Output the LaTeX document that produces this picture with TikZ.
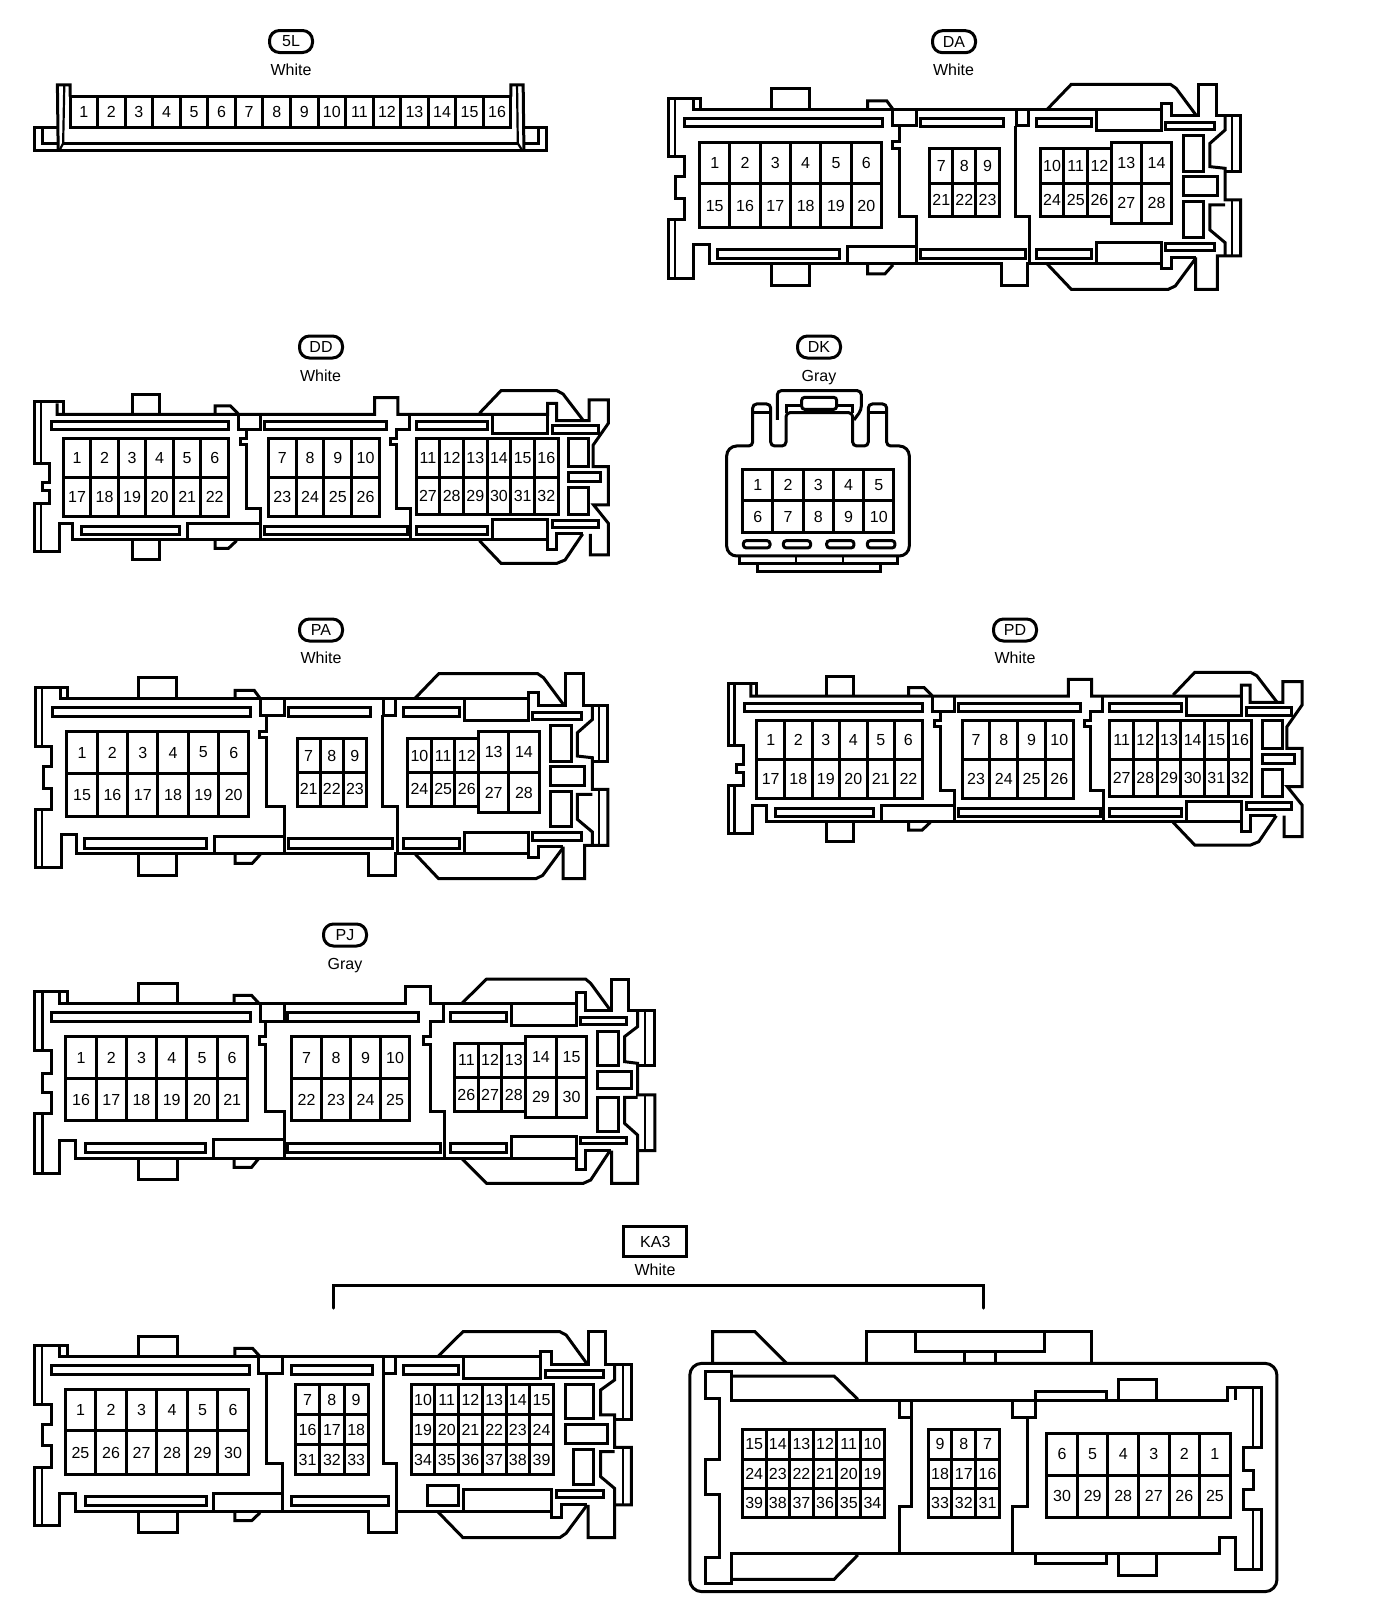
\documentclass[tikz,border=0pt]{standalone}
\usepackage{fontspec}
\setmainfont{Liberation Sans}

\tikzstyle{shell}= [black,line width=3pt,line join=miter]
\tikzstyle{thinwall}= [black,line width=2.2pt]
\tikzstyle{cavity}= [rectangle,draw,black,line width=3pt,inner sep=0pt,outer sep=0pt,font=\fontsize{16}{16}\selectfont]
\tikzstyle{idtag}= [rectangle,draw,black,line width=3pt,rounded corners=10pt,minimum width=43pt,minimum height=22pt,inner sep=0pt,font=\fontsize{16}{16}\selectfont]
\tikzstyle{idbox}= [rectangle,draw,black,line width=3pt,minimum width=63pt,minimum height=30pt,inner sep=0pt,font=\fontsize{16}{16}\selectfont]
\tikzstyle{colour}= [inner sep=0pt,font=\fontsize{16}{16}\selectfont]

% one row of cavities: id, left, top, cell width, cell height, labels
\newcommand{\pins}[6]{%
  \foreach \lab [count=\n] in {#6} {
    \node (#1-\lab) at ({#2+(\n-.5)*#4},{#3+#5/2}) [cavity,minimum width=#4*\zx*1pt,minimum height=#5*\zy*1pt] {\lab};
  }}
\newcommand{\slot}[4]{\draw[shell] (#1,#2) rectangle (#3,#4);}

% housing with 28 cavities
\newcommand{\housingA}[3]{%
\begin{scope}[shift={(#2,#3)},x=.408pt,y=-.3333pt]
  \def\zx{.408}\def\zy{.3333}
  % left end and long walls
  \draw[shell] (148,268) -- (148,235) -- (70,235) -- (70,410) -- (108,410) -- (108,470) -- (88,470) -- (88,537) -- (108,537) -- (108,600) -- (70,600) -- (70,775) -- (132,775) -- (132,675) -- (170,675) -- (170,732) -- (885,732) -- (885,797) -- (950,797) -- (950,732) -- (1278,732) -- (1278,745) -- (1302,745) -- (1302,712) -- (1362,712);
  \draw[shell] (130,240) -- (130,268) -- (1278,268) -- (1278,250) -- (1302,250) -- (1302,288) -- (1368,288) -- (1368,193) -- (1413,193) -- (1413,288) -- (1472,288) -- (1472,455) -- (1434,455);
  \draw[thinwall] (85,235) -- (85,410) (85,600) -- (85,775) (1450,288) -- (1450,455) (1450,540) -- (1450,708);
  % tabs
  \draw[shell] (322,268) -- (322,205) -- (415,205) -- (415,268);
  \draw[shell] (558,268) -- (558,243) -- (605,243) -- (620,268);
  \draw[shell] (322,732) -- (322,797) -- (415,797) -- (415,732);
  \draw[shell] (558,732) -- (558,762) -- (600,762) -- (620,735);
  % inner walls
  \draw[shell] (620,268) -- (620,318) -- (678,318) -- (678,268);
  \draw[shell] (635,318) -- (635,365) -- (618,365) -- (618,385) -- (635,385) -- (635,590) -- (678,590) -- (678,732);
  \draw[shell] (922,268) -- (922,318) -- (952,318) -- (952,268);
  \draw[shell] (920,318) -- (920,590) -- (955,590) -- (955,732);
  \draw[shell] (508,728) -- (508,680) -- (678,680);
  \slot{110}{295}{595}{320} \slot{688}{295}{890}{320} \slot{972}{295}{1107}{320}
  \slot{190}{688}{488}{716} \slot{688}{688}{945}{716} \slot{972}{688}{1107}{716}
  \draw[shell] (1120,268) -- (1120,333) -- (1278,333) -- (1278,268);
  \draw[shell] (1120,732) -- (1120,668) -- (1278,668) -- (1278,732);
  % right end
  \draw[shell] (998,268) -- (1057,193) -- (1300,193) -- (1314,205) -- (1362,284);
  \draw[shell] (998,732) -- (1057,808) -- (1295,808) -- (1312,798) -- (1362,715);
  \draw[shell] (1434,288) -- (1434,330) -- (1397,370) -- (1397,440) -- (1434,445) -- (1434,540) -- (1472,540) -- (1472,708) -- (1415,708) -- (1415,808) -- (1362,808) -- (1362,712);
  \draw[shell] (1434,555) -- (1397,555) -- (1397,630) -- (1434,668) -- (1434,708);
  \slot{1287}{308}{1407}{330} \slot{1287}{670}{1407}{692}
  \slot{1332}{348}{1382}{455} \slot{1332}{470}{1415}{528} \slot{1332}{545}{1382}{652}
  % cavities
  \pins{#1}{146}{367}{74.3}{125}{1,2,3,4,5,6}
  \pins{#1}{146}{492}{74.3}{130}{15,16,17,18,19,20}
  \pins{#1}{710}{387}{56.7}{103}{7,8,9}
  \pins{#1}{710}{490}{56.7}{100}{21,22,23}
  \pins{#1}{981}{387}{58}{103}{10,11,12}
  \pins{#1}{981}{490}{58}{100}{24,25,26}
  \pins{#1}{1155}{367}{74}{123}{13,14}
  \pins{#1}{1155}{490}{74}{120}{27,28}
\end{scope}}

% housing with 32 cavities
\newcommand{\housingD}[3]{%
\begin{scope}[shift={(#2,#3)},x=.408pt,y=-.3333pt]
  \def\zx{.408}\def\zy{.3333}
  \draw[shell] (155,283) -- (155,245) -- (85,245) -- (85,430) -- (122,430) -- (122,487) -- (105,487) -- (105,512) -- (122,512) -- (122,550) -- (85,550) -- (85,695) -- (145,695) -- (145,610) -- (178,610) -- (178,660) -- (1342,660) -- (1342,690) -- (1364,690) -- (1364,642) -- (1428,642);
  \draw[shell] (140,250) -- (140,283) -- (918,283) -- (918,233) -- (975,233) -- (975,283) -- (1342,283) -- (1342,250) -- (1364,250) -- (1364,302) -- (1444,302) -- (1444,240) -- (1491,240) -- (1491,310) -- (1454,375) -- (1454,440) -- (1491,440) -- (1491,555) -- (1455,555) -- (1491,610) -- (1491,705) -- (1447,705) -- (1447,642);
  \draw[thinwall] (100,245) -- (100,430) (100,550) -- (100,695);
  \draw[shell] (325,283) -- (325,225) -- (392,225) -- (392,283);
  \draw[shell] (527,283) -- (527,258) -- (565,258) -- (585,283);
  \draw[shell] (325,660) -- (325,718) -- (392,718) -- (392,660);
  \draw[shell] (527,660) -- (527,685) -- (560,685) -- (580,662);
  \draw[shell] (585,283) -- (585,328) -- (638,328) -- (638,283);
  \draw[shell] (605,328) -- (605,355) -- (590,355) -- (590,375) -- (605,375) -- (605,565) -- (638,565) -- (638,660);
  \draw[shell] (1003,283) -- (1003,328) -- (972,328) -- (972,355) -- (958,355) -- (958,375) -- (972,375) -- (972,565) -- (1005,565) -- (1005,660);
  \draw[shell] (460,655) -- (460,610) -- (638,610);
  \slot{125}{305}{560}{330} \slot{648}{305}{948}{330} \slot{1020}{305}{1195}{330}
  \slot{200}{620}{440}{645} \slot{648}{620}{998}{645} \slot{1020}{620}{1195}{645}
  \draw[shell] (1208,283) -- (1208,340) -- (1342,340) -- (1342,283);
  \draw[shell] (1208,660) -- (1208,600) -- (1342,600) -- (1342,660);
  \draw[shell] (1175,280) -- (1228,212) -- (1365,212) -- (1380,222) -- (1430,302);
  \draw[shell] (1175,662) -- (1228,730) -- (1365,730) -- (1385,720) -- (1428,642);
  \slot{1354}{318}{1466}{340} \slot{1354}{602}{1466}{622}
  \slot{1393}{355}{1442}{440} \slot{1393}{458}{1472}{485} \slot{1393}{502}{1442}{585}
  \pins{#1}{155}{357}{67.5}{116}{1,2,3,4,5,6}
  \pins{#1}{155}{473}{67.5}{117}{17,18,19,20,21,22}
  \pins{#1}{658}{357}{68}{116}{7,8,9,10}
  \pins{#1}{658}{473}{68}{117}{23,24,25,26}
  \pins{#1}{1020}{357}{58}{115}{11,12,13,14,15,16}
  \pins{#1}{1020}{472}{58}{113}{27,28,29,30,31,32}
\end{scope}}

\begin{document}
\begin{tikzpicture}[x=1pt,y=-1pt]
	\path[use as bounding box,fill=white] (0,0) rectangle (1376,1622);

	% id tags and colours
	\node (tag5L) at (291,41.5) [idtag] {5L};
	\node (col5L) at (291,69.5) [colour] {White};
	\node (tagDA) at (954,41.7) [idtag] {DA};
	\node (colDA) at (953.5,69.5) [colour] {White};
	\node (tagDD) at (321,347) [idtag] {DD};
	\node (colDD) at (320.5,375.7) [colour] {White};
	\node (tagDK) at (819,347) [idtag] {DK};
	\node (colDK) at (819,377.5) [colour] {Gray};
	\node (tagPA) at (321,630) [idtag] {PA};
	\node (colPA) at (321,657.5) [colour] {White};
	\node (tagPD) at (1015,630) [idtag] {PD};
	\node (colPD) at (1015,657.5) [colour] {White};
	\node (tagPJ) at (345,935) [idtag] {PJ};
	\node (colPJ) at (345,965.5) [colour] {Gray};
	\node (tagKA) at (655.3,1241.7) [idbox] {KA3};
	\node (colKA) at (655,1270) [colour] {White};

	% bracket of KA3
	\coordinate (brA) at (333.4,1308);
	\coordinate (brB) at (983,1308);
	\draw[shell,line cap=round] (brA) -- (333.4,1285) -- (983,1285) -- (brB);

	% 5L
	\begin{scope}[x=.3827pt,y=-.3333pt]
		\def\zx{.3827}\def\zy{.3333}
		\draw[shell] (152,384) -- (90,384) -- (90,453) -- (1428,453) -- (1428,384) -- (1369,384);
		\draw[shell] (152,430) -- (110,430) -- (110,384);
		\draw[shell] (1369,430) -- (1408,430) -- (1408,384);
		\draw[shell] (165,430) -- (1353,430);
		\draw[shell] (152,452) -- (150,255) -- (183,255) -- (183,290);
		\draw[shell] (1335,290) -- (1335,255) -- (1367,255) -- (1369,452);
		\draw[thinwall] (168,255) -- (165,430) -- (155,452);
		\draw[thinwall] (1351,255) -- (1353,430) -- (1365,452);
		\pins{J}{183}{290}{72}{92}{1,...,16}
	\end{scope}

	\housingA{DA}{640}{20}
	\housingD{DD}{0}{320}
	\housingA{PA}{7.4}{609.4}
	\housingD{PD}{693.7}{601.7}

	% DK
	\begin{scope}[shift={(700,320)},x=.3333pt,y=-.3333pt]
		\def\zx{.3333}\def\zy{.3333}
		\draw[shell,rounded corners=10pt] (300,708) -- (80,708) -- (80,378) [rounded corners=4pt] -- (158,378) -- (158,252) -- (212,252) -- (212,378) -- (258,378) -- (258,278) -- (458,278) -- (458,378) -- (505,378) -- (505,252) -- (560,252) -- (560,378) [rounded corners=10pt] -- (628,378) -- (628,708) -- cycle;
		\draw[shell] (158,278) -- (212,278) (505,278) -- (560,278);
		\draw[shell,rounded corners=4pt] (232,300) -- (232,212) -- (484,212) -- (484,270) -- (462,300);
		\draw[shell] (258,278) -- (258,258) -- (305,258) (410,258) -- (458,258) -- (458,278);
		\draw[shell,rounded corners=3pt] (305,232) rectangle (410,268);
		\draw[shell] (118,708) -- (118,730) -- (592,730) -- (592,708);
		\draw[thinwall] (288,708) -- (288,730) (430,708) -- (430,730);
		\draw[shell] (172,730) -- (172,755) -- (542,755) -- (542,730);
		\draw[shell,rounded corners=3pt] (130,662) rectangle (210,684);
		\draw[shell,rounded corners=3pt] (250,662) rectangle (332,684);
		\draw[shell,rounded corners=3pt] (380,662) rectangle (462,684);
		\draw[shell,rounded corners=3pt] (502,662) rectangle (585,684);
		\pins{DK}{128}{448}{90.8}{94.5}{1,2,3,4,5}
		\pins{DK}{128}{542.5}{90.8}{94.5}{6,7,8,9,10}
	\end{scope}

	% PJ
	\begin{scope}[shift={(0,920)},x=.4337pt,y=-.3333pt]
		\def\zx{.4337}\def\zy{.3333}
		\draw[shell] (155,250) -- (155,215) -- (80,215) -- (80,392) -- (118,392) -- (118,460) -- (98,460) -- (98,517) -- (118,517) -- (118,580) -- (80,580) -- (80,760) -- (138,760) -- (138,663) -- (175,663) -- (175,715) -- (1330,715) -- (1330,748) -- (1350,748) -- (1350,692) -- (1408,692);
		\draw[shell] (138,218) -- (138,250) -- (935,250) -- (935,200) -- (992,200) -- (992,250) -- (1330,250) -- (1330,218) -- (1350,218) -- (1350,270) -- (1410,270) -- (1410,177) -- (1450,177) -- (1450,270) -- (1510,270) -- (1510,438) -- (1470,438);
		\draw[thinwall] (98,215) -- (98,392) (98,580) -- (98,760) (1488,270) -- (1488,438) (1488,525) -- (1488,692);
		\draw[shell] (320,250) -- (320,190) -- (410,190) -- (410,250);
		\draw[shell] (540,250) -- (540,226) -- (580,226) -- (597,250);
		\draw[shell] (320,715) -- (320,778) -- (410,778) -- (410,715);
		\draw[shell] (540,715) -- (540,742) -- (580,742) -- (597,715);
		\draw[shell] (600,250) -- (600,304) -- (655,304) -- (655,250);
		\draw[shell] (613,304) -- (613,350) -- (598,350) -- (598,372) -- (613,372) -- (613,575) -- (655,575) -- (655,715);
		\draw[shell] (1022,250) -- (1022,304) -- (992,304) -- (992,350) -- (977,350) -- (977,372) -- (992,372) -- (992,575) -- (1025,575) -- (1025,715);
		\draw[shell] (493,712) -- (493,660) -- (655,660);
		\slot{118}{278}{577}{304} \slot{662}{278}{965}{304} \slot{1038}{278}{1167}{304}
		\slot{197}{670}{473}{697} \slot{662}{670}{1015}{697} \slot{1038}{670}{1167}{697}
		\draw[shell] (1180,250) -- (1180,315) -- (1330,315) -- (1330,250);
		\draw[shell] (1180,715) -- (1180,650) -- (1330,650) -- (1330,715);
		\draw[shell] (1065,250) -- (1122,177) -- (1350,177) -- (1362,190) -- (1408,272);
		\draw[shell] (1065,716) -- (1122,790) -- (1345,790) -- (1362,780) -- (1405,695);
		\draw[shell] (1470,270) -- (1470,320) -- (1440,350) -- (1440,425) -- (1470,430) -- (1470,525) -- (1510,525) -- (1510,692) -- (1470,692);
		\draw[shell] (1470,532) -- (1440,532) -- (1440,610) -- (1470,645) -- (1470,790) -- (1410,790) -- (1410,692);
		\slot{1338}{292}{1445}{314} \slot{1338}{652}{1445}{672}
		\slot{1378}{333}{1425}{436} \slot{1378}{455}{1455}{507} \slot{1378}{532}{1425}{635}
		\pins{PJ}{152}{350}{69.7}{127}{1,2,3,4,5,6}
		\pins{PJ}{152}{477}{69.7}{126}{16,17,18,19,20,21}
		\pins{PJ}{673}{350}{68}{127}{7,8,9,10}
		\pins{PJ}{673}{477}{68}{126}{22,23,24,25}
		\pins{PJ}{1048}{370}{54.7}{102}{11,12,13}
		\pins{PJ}{1048}{472}{54.7}{103}{26,27,28}
		\pins{PJ}{1212}{350}{70.5}{122}{14,15}
		\pins{PJ}{1212}{472}{70.5}{120}{29,30}
	\end{scope}

	% KA3, left half
	\begin{scope}[shift={(0,1210)},x=.4209pt,y=-.3333pt]
		\def\zx{.4209}\def\zy{.3333}
		\draw[shell] (160,440) -- (160,405) -- (82,405) -- (82,583) -- (122,583) -- (122,645) -- (100,645) -- (100,708) -- (122,708) -- (122,772) -- (82,772) -- (82,948) -- (142,948) -- (142,850) -- (180,850) -- (180,905) -- (875,905) -- (875,967) -- (942,967) -- (942,905) -- (1310,905) -- (1310,922) -- (1335,922) -- (1335,883) -- (1395,883);
		\draw[shell] (142,408) -- (142,440) -- (1285,440) -- (1285,423) -- (1310,423) -- (1310,462) -- (1397,462) -- (1397,365) -- (1438,365) -- (1438,462) -- (1500,462) -- (1500,630) -- (1460,630);
		\draw[thinwall] (100,405) -- (100,583) (100,772) -- (100,948) (1480,462) -- (1480,630) (1480,712) -- (1480,885);
		\draw[shell] (328,440) -- (328,380) -- (422,380) -- (422,440);
		\draw[shell] (558,440) -- (558,415) -- (600,415) -- (618,440);
		\draw[shell] (328,905) -- (328,968) -- (422,968) -- (422,905);
		\draw[shell] (558,905) -- (558,932) -- (598,932) -- (618,908);
		\draw[shell] (615,440) -- (615,490) -- (672,490) -- (672,440);
		\draw[shell] (633,490) -- (633,760) -- (672,760) -- (672,905);
		\draw[shell] (912,440) -- (912,490) -- (940,490) -- (940,440);
		\draw[shell] (912,490) -- (912,760) -- (942,760) -- (942,905);
		\draw[shell] (508,903) -- (508,850) -- (672,850);
		\slot{122}{465}{592}{492} \slot{692}{465}{885}{492} \slot{958}{465}{1090}{492}
		\slot{203}{860}{490}{888} \slot{692}{860}{922}{888} \slot{1015}{828}{1090}{888}
		\draw[shell] (1102,440) -- (1102,505) -- (1285,505) -- (1285,440);
		\draw[shell] (1102,905) -- (1102,840) -- (1310,840) -- (1310,905);
		\draw[shell] (1040,440) -- (1100,365) -- (1330,365) -- (1345,375) -- (1395,462);
		\draw[shell] (1040,905) -- (1100,983) -- (1330,983) -- (1345,970) -- (1395,885);
		\draw[shell] (1460,462) -- (1460,510) -- (1427,540) -- (1427,615) -- (1460,615) -- (1460,712) -- (1500,712) -- (1500,885) -- (1460,885);
		\draw[shell] (1460,725) -- (1427,725) -- (1427,800) -- (1460,835) -- (1460,983) -- (1397,983) -- (1397,885);
		\slot{1297}{482}{1433}{502} \slot{1322}{843}{1433}{863}
		\slot{1343}{523}{1410}{625} \slot{1343}{645}{1443}{700} \slot{1362}{718}{1410}{825}
		\pins{KAL}{155}{538}{72.5}{125}{1,2,3,4,5,6}
		\pins{KAL}{155}{663}{72.5}{132}{25,26,27,28,29,30}
		\pins{KAL}{702}{525}{57.7}{90}{7,8,9}
		\pins{KAL}{702}{615}{57.7}{90}{16,17,18}
		\pins{KAL}{702}{705}{57.7}{90}{31,32,33}
		\pins{KAL}{977}{525}{56.3}{90}{10,11,12,13,14,15}
		\pins{KAL}{977}{615}{56.3}{90}{19,20,21,22,23,24}
		\pins{KAL}{977}{705}{56.3}{90}{34,35,36,37,38,39}
	\end{scope}

	% KA3, right half
	\begin{scope}[shift={(670,1300)},x=.3954pt,y=-.3333pt]
		\def\zx{.3954}\def\zy{.3333}
		\draw[shell,rounded corners=12pt] (50,190) rectangle (1535,875);
		\draw[shell] (108,190) -- (108,95) -- (215,95) -- (295,190);
		\draw[shell] (498,190) -- (498,95) -- (1067,95) -- (1067,190);
		\draw[shell] (620,95) -- (620,155) -- (948,155) -- (948,95);
		\draw[shell] (745,155) -- (745,190) (822,155) -- (822,190);
		\draw[shell] (155,300) -- (155,215) -- (90,215) -- (90,295) -- (125,295) -- (125,478) -- (90,478) -- (90,583) -- (125,583) -- (125,772) -- (90,772) -- (90,850) -- (155,850) -- (155,762) -- (1390,762) -- (1390,712) -- (1430,712) -- (1430,808) -- (1495,808) -- (1495,630) -- (1450,630) -- (1450,570) -- (1475,570) -- (1475,510) -- (1450,510) -- (1450,443) -- (1495,443) -- (1495,262) -- (1410,262) -- (1410,300) -- cycle;
		\draw[thinwall] (1430,262) -- (1430,300) (1475,262) -- (1475,443) (1475,630) -- (1475,808);
		\draw[shell] (155,228) -- (415,228) -- (475,298);
		\draw[shell] (155,838) -- (415,838) -- (475,765);
		\draw[shell] (925,300) -- (925,275) -- (1105,275) -- (1105,300);
		\draw[shell] (1135,300) -- (1135,238) -- (1230,238) -- (1230,300);
		\draw[shell] (925,762) -- (925,790) -- (1105,790) -- (1105,762);
		\draw[shell] (1135,762) -- (1135,827) -- (1230,827) -- (1230,762);
		\draw[shell] (580,300) -- (580,352) -- (612,352) -- (612,300);
		\draw[shell] (612,352) -- (612,620) -- (580,620) -- (580,762);
		\draw[shell] (865,300) -- (865,352) -- (925,352) -- (925,300);
		\draw[shell] (905,352) -- (905,620) -- (865,620) -- (865,762);
		\pins{KAR}{183}{388}{59.8}{90}{15,14,13,12,11,10}
		\pins{KAR}{183}{478}{59.8}{88}{24,23,22,21,20,19}
		\pins{KAR}{183}{566}{59.8}{87}{39,38,37,36,35,34}
		\pins{KAR}{653}{388}{60}{90}{9,8,7}
		\pins{KAR}{653}{478}{60}{88}{18,17,16}
		\pins{KAR}{653}{566}{60}{87}{33,32,31}
		\pins{KAR}{953}{400}{77.3}{125}{6,5,4,3,2,1}
		\pins{KAR}{953}{525}{77.3}{128}{30,29,28,27,26,25}
	\end{scope}
\end{tikzpicture}
\end{document}
